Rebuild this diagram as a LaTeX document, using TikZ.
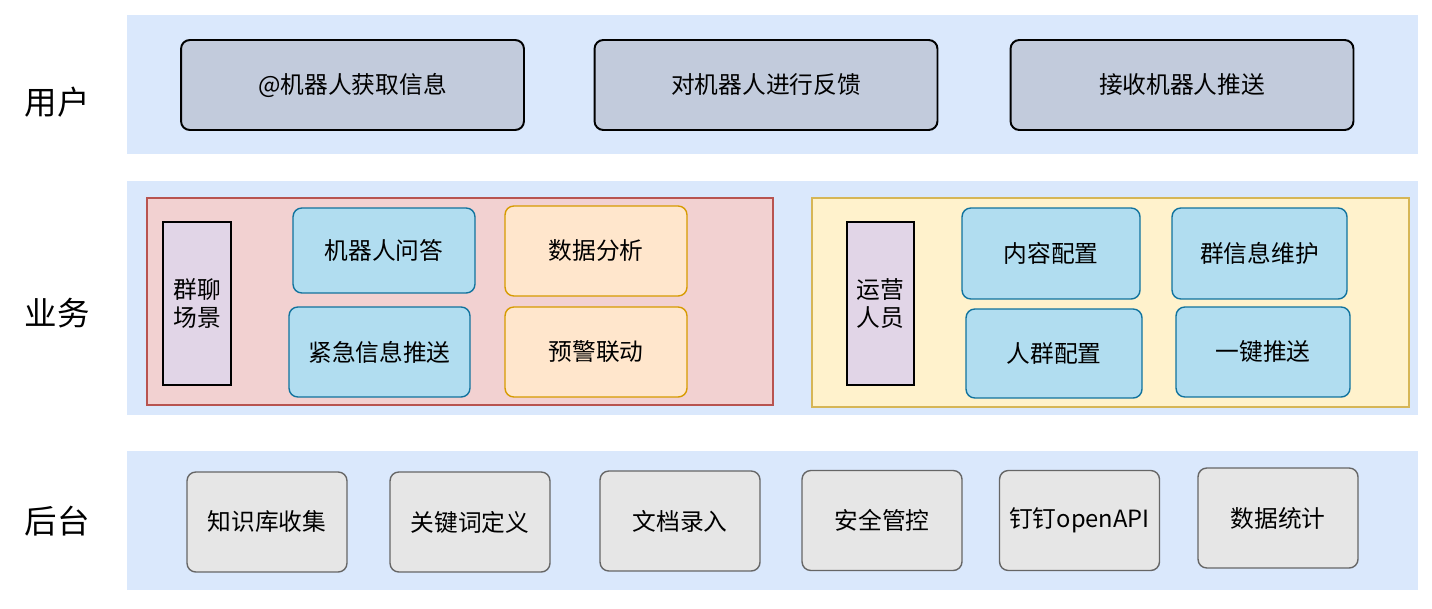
\documentclass[tikz,border=0pt]{standalone}
\usepackage{fontspec}
\setmainfont{Noto Sans CJK SC}
\definecolor{capa}{HTML}{DAE8FC}
\definecolor{grisazul}{RGB}{194, 203, 220}
\definecolor{celeste}{HTML}{B1DDF0}
\definecolor{celesteborde}{HTML}{10739E}
\definecolor{naranja}{HTML}{FFE6CC}
\definecolor{naranjaborde}{HTML}{D79B00}
\definecolor{rosa}{HTML}{F2D1D1}
\definecolor{rosaborde}{HTML}{B85450}
\definecolor{crema}{HTML}{FFF2CC}
\definecolor{cremaborde}{HTML}{D6B656}
\definecolor{lila}{HTML}{E1D5E7}
\definecolor{grisclaro}{HTML}{E6E6E6}
\definecolor{grisborde}{HTML}{666666}
\usepackage{tikz}

\begin{document}
\begin{tikzpicture}[
          x=0.02cm, y=-0.02cm,
          every node/.style={inner sep=0pt, outer sep=0pt, font=\fontsize{13.5}{16}\selectfont},
          band/.style={fill=capa, minimum width=25.82cm, minimum height=2.78cm},
          layer/.style={font=\fontsize{18.5}{20}\selectfont},
          userbox/.style={draw=black, line width=1.1pt, fill=grisazul, rounded corners=5pt,
                      minimum width=6.86cm, minimum height=1.8cm},
          bizbox/.style={draw=celesteborde, line width=0.8pt, fill=celeste, rounded corners=5pt},
          databox/.style={draw=naranjaborde, line width=0.8pt, fill=naranja, rounded corners=5pt,
                      minimum width=3.64cm, minimum height=1.8cm},
          rolebox/.style={draw=black, line width=1pt, fill=lila, minimum width=1.36cm,
                      minimum height=3.26cm, align=center},
          backbox/.style={draw=grisborde, line width=0.8pt, fill=grisclaro, rounded corners=5pt,
                      minimum width=3.2cm, minimum height=2cm}
        ]
        \useasboundingbox (0,0) rectangle (1432,608);
        % capas
        \node[band] (ub) at (772.5,84.5) {};
        \node[band, minimum height=4.68cm] (bb) at (772.5,298) {};
        \node[band] (hb) at (772.5,520.5) {};
        \node[layer] (lu) at (57,102) {用户};
        \node[layer] (lb) at (57,313) {业务};
        \node[layer] (lh) at (57,521) {后台};
        % usuario
        \node[userbox] (at) at (352.5,85) {@机器人获取信息};
        \node[userbox] (fk) at (766,85) {对机器人进行反馈};
        \node[userbox] (ts) at (1182,85) {接收机器人推送};
        % negocio
        \node[draw=rosaborde, line width=0.8pt, fill=rosa, minimum width=12.52cm, minimum height=4.14cm] (qun) at (460,301.5) {};
        \node[draw=cremaborde, line width=0.8pt, fill=crema, minimum width=11.94cm, minimum height=4.18cm] (yun) at (1110.5,302.5) {};
        \node[rolebox] (ql) at (197,303.5) {群聊\\场景};
        \node[rolebox, minimum width=1.34cm] (yy) at (880.5,303.5) {运营\\人员};
        \node[bizbox, minimum width=3.64cm, minimum height=1.7cm] (wd) at (384,250.5) {机器人问答};
        \node[bizbox, minimum width=3.62cm, minimum height=1.8cm] (jj) at (379.5,352) {紧急信息推送};
        \node[databox] (sj) at (596,251) {数据分析};
        \node[databox] (yj) at (596,352) {预警联动};
        \node[bizbox, minimum width=3.56cm, minimum height=1.82cm] (nr) at (1051,253.5) {内容配置};
        \node[bizbox, minimum width=3.5cm, minimum height=1.82cm] (wh) at (1259.5,253.5) {群信息维护};
        \node[bizbox, minimum width=3.52cm, minimum height=1.78cm] (rq) at (1054,353.5) {人群配置};
        \node[bizbox, minimum width=3.48cm, minimum height=1.8cm] (yj2) at (1263,352) {一键推送};
        % backend
        \node[backbox] (zs) at (267,522) {知识库收集};
        \node[backbox] (gj) at (470,522) {关键词定义};
        \node[backbox] (wdl) at (680,521) {文档录入};
        \node[backbox] (aq) at (882,520.5) {安全管控};
        \node[backbox] (dd) at (1079.5,520.5) {钉钉openAPI};
        \node[backbox] (tj) at (1278,518) {数据统计};
      \end{tikzpicture}
\end{document}
